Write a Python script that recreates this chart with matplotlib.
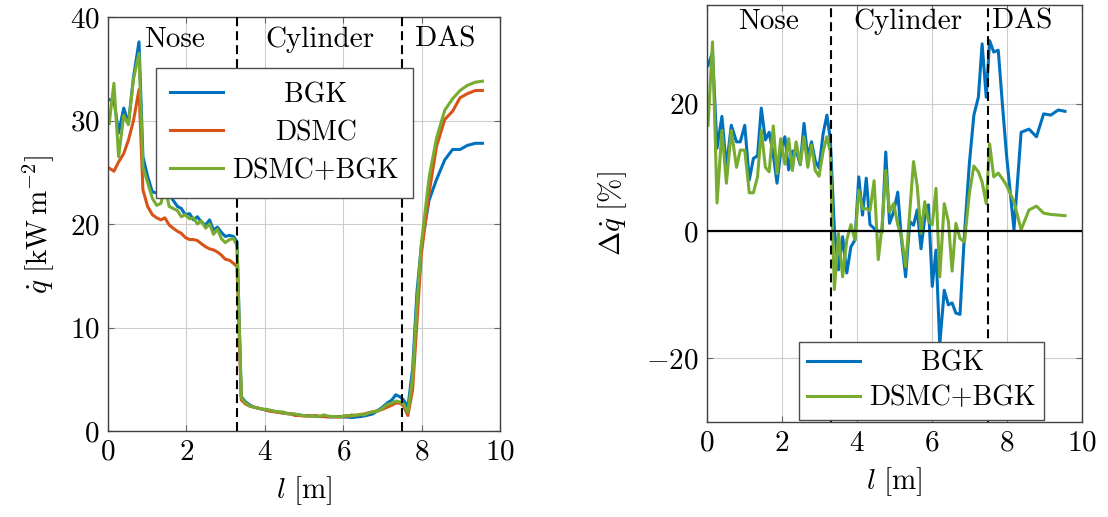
import numpy as np
import matplotlib
matplotlib.use("Agg")
import matplotlib.pyplot as plt

plt.rcParams["font.family"] = "serif"
plt.rcParams["font.serif"] = ["cmr10"]
plt.rcParams["mathtext.fontset"] = "cm"
plt.rcParams["axes.formatter.use_mathtext"] = True
plt.rcParams["font.size"] = 21

# Wall position along the body [m]
l_pos = [0.03, 0.15, 0.27, 0.40, 0.52, 0.65, 0.79, 0.89, 1.01, 1.13,
         1.24, 1.35, 1.45, 1.56, 1.66, 1.77, 1.87, 1.97, 2.08, 2.18,
         2.28, 2.38, 2.49, 2.59, 2.69, 2.79, 2.89, 2.99, 3.10, 3.20, 3.29,
         3.40, 3.51, 3.62, 3.73, 3.84, 3.95, 4.05, 4.15, 4.25, 4.35,
         4.46, 4.57, 4.67, 4.77, 4.87, 4.98, 5.09, 5.19, 5.30, 5.41,
         5.51, 5.61, 5.71, 5.81, 5.91, 6.01, 6.11, 6.21, 6.33, 6.44,
         6.54, 6.64, 6.75, 6.87, 7.00, 7.12, 7.24, 7.34, 7.45,
         7.54, 7.65, 7.77, 7.88, 7.99, 8.19, 8.38, 8.59, 8.79, 8.98,
         9.17, 9.37, 9.55]

# Heat flux [kW/m^2]
q_bgk = [32.0, 32.0, 28.8, 31.2, 29.7, 34.2, 37.6, 26.5, 24.6, 23.1,
         23.0, 22.9, 24.4, 22.8, 22.3, 21.7, 21.5, 20.9, 21.0, 20.4,
         20.7, 20.2, 19.9, 20.4, 19.4, 19.7, 19.2, 18.8, 18.9, 18.8, 18.3,
         3.3, 2.8, 2.5, 2.3, 2.2, 2.1, 2.0, 1.95, 1.9, 1.8,
         1.75, 1.7, 1.65, 1.6, 1.55, 1.5, 1.5, 1.45, 1.4, 1.4,
         1.4, 1.4, 1.35, 1.4, 1.4, 1.35, 1.35, 1.3, 1.35, 1.4,
         1.45, 1.55, 1.65, 1.95, 2.3, 2.7, 3.0, 3.5, 3.3,
         3.0, 2.3, 6.0, 13.4, 17.8, 22.3, 24.3, 26.2, 27.2, 27.2,
         27.6, 27.8, 27.8]
q_dsmc = [25.4, 25.1, 26.0, 26.8, 28.1, 30.0, 33.0, 23.3, 21.7, 20.9,
          20.6, 20.4, 20.6, 19.9, 19.6, 19.3, 19.1, 18.7, 18.5, 18.5,
          18.4, 18.1, 17.8, 17.6, 17.5, 17.3, 17.0, 16.6, 16.5, 16.2, 15.9,
          3.0, 2.6, 2.4, 2.3, 2.2, 2.1, 2.0, 1.9, 1.85, 1.8,
          1.75, 1.7, 1.65, 1.5, 1.5, 1.45, 1.45, 1.45, 1.5, 1.4,
          1.4, 1.35, 1.4, 1.35, 1.35, 1.45, 1.4, 1.55, 1.5, 1.6,
          1.65, 1.75, 1.85, 1.95, 2.1, 2.3, 2.5, 2.7, 2.7,
          2.4, 1.5, 4.0, 10.5, 17.0, 23.0, 27.5, 30.1, 30.9, 32.2,
          32.6, 32.9, 32.9]
q_hyb = [29.7, 33.6, 26.5, 30.5, 29.6, 34.0, 36.5, 25.5, 24.0, 22.5,
         21.8, 22.0, 23.6, 21.7, 21.5, 21.3, 20.7, 20.9, 20.5, 20.6,
         20.0, 20.3, 19.6, 20.0, 19.0, 19.5, 18.6, 18.2, 18.5, 18.6, 17.9,
         3.2, 2.7, 2.4, 2.3, 2.2, 2.1, 2.1, 2.0, 1.9, 1.85,
         1.85, 1.65, 1.65, 1.65, 1.55, 1.5, 1.45, 1.45, 1.4, 1.45,
         1.55, 1.45, 1.4, 1.4, 1.35, 1.45, 1.5, 1.45, 1.55, 1.6,
         1.55, 1.75, 1.85, 1.9, 2.2, 2.55, 2.7, 2.9, 2.8,
         2.6, 1.8, 5.2, 12.3, 18.0, 24.5, 28.3, 31.0, 32.1, 32.9,
         33.4, 33.7, 33.8]

# Relative deviation from DSMC [%]
dq_bgk = [26, 28, 13, 18, 10, 16.6, 14, 14, 16.6, 8,
          11.4, 11.8, 19.3, 14.3, 15.5, 12, 7.5, 12.5, 14.8, 9.6,
          12.5, 12.7, 10.4, 16.9, 11.6, 14, 11, 9.9, 15.3, 18.2, 14.5,
          0.2, -6.1, -0.9, -6.6, -2.5, -1.4, 8.5, 2.5, 8.3, 1.0,
          0.4, 0.0, -0.2, 12.4, 1.2, 3.0, 6.1, -1.4, -7.2, 1.5,
          0.9, 3.3, -2.8, 2.0, 4.1, -8.7, -3.0, -17.9, -9.3, -11.6,
          -11.3, -12.9, -13.1, -0.4, 10.6, 18.2, 21.0, 29.4, 21.0,
          29.9, 28.1, 28.4, 20, 12, 0.2, 15.5, 16, 14.8, 18.4,
          18.2, 19, 18.8]
dq_hyb = [16.6, 29.7, 4.4, 15.8, 7.5, 15.8, 10, 12.7, 12.7, 6,
          6, 8.5, 15.8, 10, 9.3, 16.5, 9.0, 14.5, 10.5, 14.5,
          9.5, 14.0, 10.5, 14.8, 10.0, 13.5, 9.5, 8.6, 12.5, 14.8, 12.5,
          -9.2, -0.4, -7.2, -1.4, 1.0, -1.4, 6.4, 3.5, 3.5, 3.2,
          7.9, -4.5, 0.7, 9.5, 3.0, 4.3, 1.0, -0.9, -5.6, 3.0,
          10.9, 7.0, -0.4, 4.6, 1.5, 1.0, 6.7, -7.2, 4.3, 1.5,
          -6.3, 1.2, -1.2, -1.7, 5.9, 10.2, 9.3, 7.7, 4.3,
          13.7, 8.5, 9.1, 8.2, 7.2, 4.6, 0.2, 3.3, 3.9, 2.8,
          2.6, 2.5, 2.4]

regions = ["Nose", "Cylinder", "DAS"]
boundaries = [3.3, 7.5]

c_bgk = "#0072BD"
c_dsmc = "#D95319"
c_hyb = "#77AC30"
lw = 2.2

fig = plt.figure(figsize=(11.08, 5.17), dpi=100)
ax1 = fig.add_axes([0.0975, 0.1663, 0.3538, 0.8008])
ax2 = fig.add_axes([0.638, 0.1838, 0.3384, 0.8066])


def style(ax):
    ax.grid(True, color="0.8", lw=0.8)
    ax.set_axisbelow(True)
    ax.tick_params(direction="in", length=4, color="0.4", top=True, right=True, pad=6)
    for sp in ax.spines.values():
        sp.set_color("0.25")
        sp.set_linewidth(1.0)
    for b in boundaries:
        ax.axvline(b, color="black", lw=1.5, ls=(0, (4.3, 2.4)), zorder=3)


# left: heat flux
ax1.plot(l_pos, q_bgk, color=c_bgk, lw=lw, label="BGK")
ax1.plot(l_pos, q_dsmc, color=c_dsmc, lw=lw, label="DSMC")
ax1.plot(l_pos, q_hyb, color=c_hyb, lw=lw, label="DSMC+BGK")
ax1.set_xlim(0, 10)
ax1.set_ylim(0, 40)
ax1.set_xticks([0, 2, 4, 6, 8, 10])
ax1.set_yticks([0, 10, 20, 30, 40])
style(ax1)
ax1.set_xlabel(r"$l\ [\mathrm{m}]$", labelpad=6)
ax1.set_ylabel(r"$\dot{q}\ [\mathrm{kW\,m^{-2}}]$", labelpad=9)
for name, xc in zip(regions, [1.7, 5.4, 8.6]):
    ax1.text(xc, 37.8, name, ha="center", va="center")
leg1 = ax1.legend(loc="upper right", bbox_to_anchor=(0.778, 0.877), borderaxespad=0,
                  fancybox=False, framealpha=1, edgecolor="0.3", handlelength=1.9,
                  handletextpad=0.35, borderpad=0.5, labelspacing=0.42, fontsize=20)
leg1.get_frame().set_linewidth(1.0)

# right: deviation from DSMC
ax2.plot(l_pos, dq_bgk, color=c_bgk, lw=lw, label="BGK")
ax2.plot(l_pos, dq_hyb, color=c_hyb, lw=lw, label="DSMC+BGK")
ax2.axhline(0, color="black", lw=1.6, zorder=3)
ax2.set_xlim(0, 10)
ax2.set_ylim(-30, 35.5)
ax2.set_xticks([0, 2, 4, 6, 8, 10])
ax2.set_yticks([-20, 0, 20])
style(ax2)
ax2.set_xlabel(r"$l\ [\mathrm{m}]$", labelpad=6)
ax2.set_ylabel(r"$\Delta\dot{q}\ [\%]$", labelpad=12)
for name, xc in zip(regions, [1.65, 5.35, 8.4]):
    ax2.text(xc, 32.9, name, ha="center", va="center")
leg2 = ax2.legend(loc="lower right", bbox_to_anchor=(0.9, 0.005), borderaxespad=0,
                  fancybox=False, framealpha=1, edgecolor="0.3", handlelength=1.9,
                  handletextpad=0.35, borderpad=0.3, labelspacing=0.3, fontsize=20)
leg2.get_frame().set_linewidth(1.0)

# centre legend entries in their column
fig.canvas.draw()
for leg in (leg1, leg2):
    texts = leg.get_texts()
    widths = [t.get_window_extent().width for t in texts]
    for t, w in zip(texts, widths):
        t.set_x((max(widths) - w) / 2)

fig.savefig("out.png", dpi=100)
